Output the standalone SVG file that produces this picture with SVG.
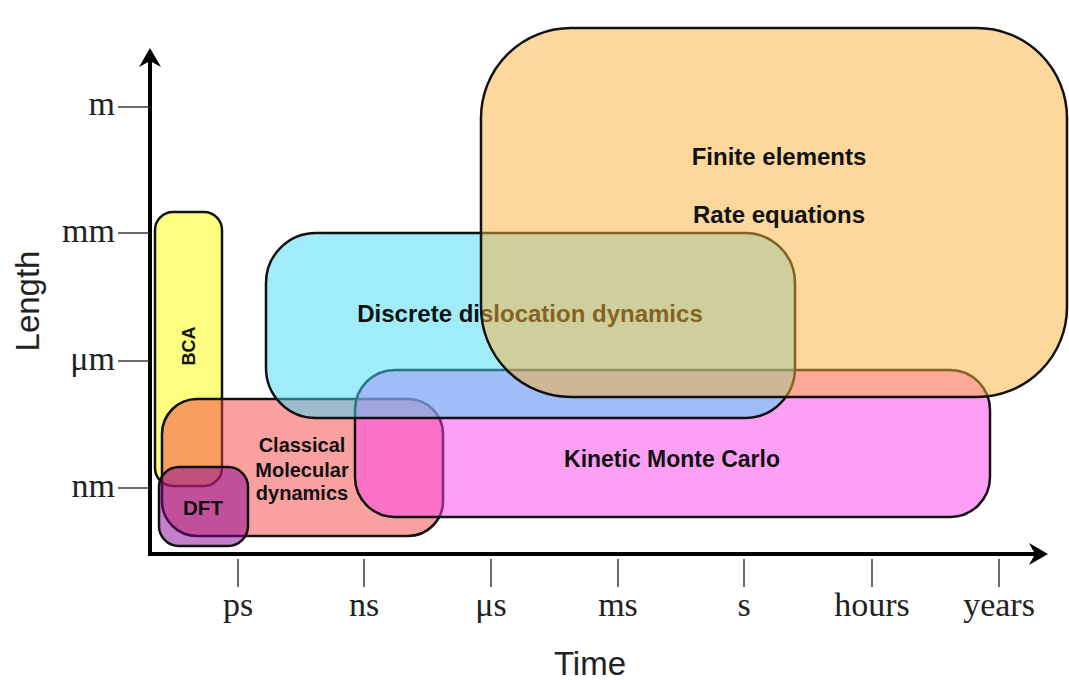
<svg xmlns="http://www.w3.org/2000/svg" width="1069" height="680" viewBox="0 0 1069 680">
<style>
.box{stroke:#111;stroke-width:2.5}
.lbl{font-family:"Liberation Sans",Arial,sans-serif;font-weight:bold;fill:#111;text-anchor:middle}
.tick{stroke:#444;stroke-width:1.6}
.tl{font-family:"Liberation Serif","Times New Roman",serif;font-size:34px;fill:#222}
.ax{font-family:"Liberation Sans",Arial,sans-serif;font-size:33px;fill:#222;text-anchor:middle}
</style>
<rect width="1069" height="680" fill="#fff"/>
<g id="axes">
  <line x1="150" y1="556" x2="150" y2="58" stroke="#000" stroke-width="4"/>
  <path d="M150,48 L161,67 L150,61 L139,67 Z" fill="#000"/>
  <line x1="148" y1="554" x2="1038" y2="554" stroke="#000" stroke-width="4"/>
  <path d="M1048,554 L1029,543 L1035,554 L1029,565 Z" fill="#000"/>
  <g class="tick">
    <line x1="118" y1="107" x2="149" y2="107"/>
    <line x1="118" y1="233" x2="149" y2="233"/>
    <line x1="118" y1="361" x2="149" y2="361"/>
    <line x1="118" y1="488" x2="149" y2="488"/>
    <line x1="238" y1="559" x2="238" y2="587"/>
    <line x1="364" y1="559" x2="364" y2="587"/>
    <line x1="491" y1="559" x2="491" y2="587"/>
    <line x1="618" y1="559" x2="618" y2="587"/>
    <line x1="744" y1="559" x2="744" y2="587"/>
    <line x1="872" y1="559" x2="872" y2="587"/>
    <line x1="999" y1="559" x2="999" y2="587"/>
  </g>
  <g class="tl" text-anchor="end">
    <text x="115" y="115">m</text>
    <text x="115" y="242">mm</text>
    <text x="115" y="370">μm</text>
    <text x="115" y="497">nm</text>
  </g>
  <g class="tl" text-anchor="middle">
    <text x="238" y="616">ps</text>
    <text x="364" y="616">ns</text>
    <text x="491" y="616">μs</text>
    <text x="618" y="616">ms</text>
    <text x="744" y="616">s</text>
    <text x="872" y="616">hours</text>
    <text x="999" y="616">years</text>
  </g>
  <text class="ax" x="590" y="675">Time</text>
  <text class="ax" transform="translate(39,301) rotate(-90)">Length</text>
</g>
<g id="bca">
  <rect class="box" x="155" y="212" width="67" height="274" rx="18" fill="#fbfb00" fill-opacity="0.5"/>
  <text class="lbl" font-size="18" transform="translate(195,346) rotate(-90)">BCA</text>
</g>
<g id="md">
  <rect class="box" x="162" y="399" width="281" height="137" rx="35" fill="#f34141" fill-opacity="0.5"/>
  <text class="lbl" font-size="20" x="302" y="452">Classical</text>
  <text class="lbl" font-size="20" x="302" y="477">Molecular</text>
  <text class="lbl" font-size="20" x="302" y="500">dynamics</text>
</g>
<g id="dft">
  <rect class="box" x="159" y="467" width="89" height="79" rx="20" fill="#870093" fill-opacity="0.5"/>
  <text class="lbl" font-size="20.5" x="203" y="515">DFT</text>
</g>
<g id="kmc">
  <rect class="box" x="355" y="370" width="635" height="147" rx="40" fill="#fb41eb" fill-opacity="0.5"/>
  <text class="lbl" font-size="23" x="672" y="467">Kinetic Monte Carlo</text>
</g>
<g id="ddd">
  <rect class="box" x="266" y="233" width="529" height="185" rx="50" fill="#41d9f7" fill-opacity="0.5"/>
  <text class="lbl" font-size="24" x="530" y="322">Discrete dislocation dynamics</text>
</g>
<g id="fe">
  <rect class="box" x="481" y="28" width="586" height="369" rx="90" fill="#fbb139" fill-opacity="0.5"/>
  <text class="lbl" font-size="24" x="779" y="165">Finite elements</text>
  <text class="lbl" font-size="24" x="779" y="223">Rate equations</text>
</g>
</svg>
